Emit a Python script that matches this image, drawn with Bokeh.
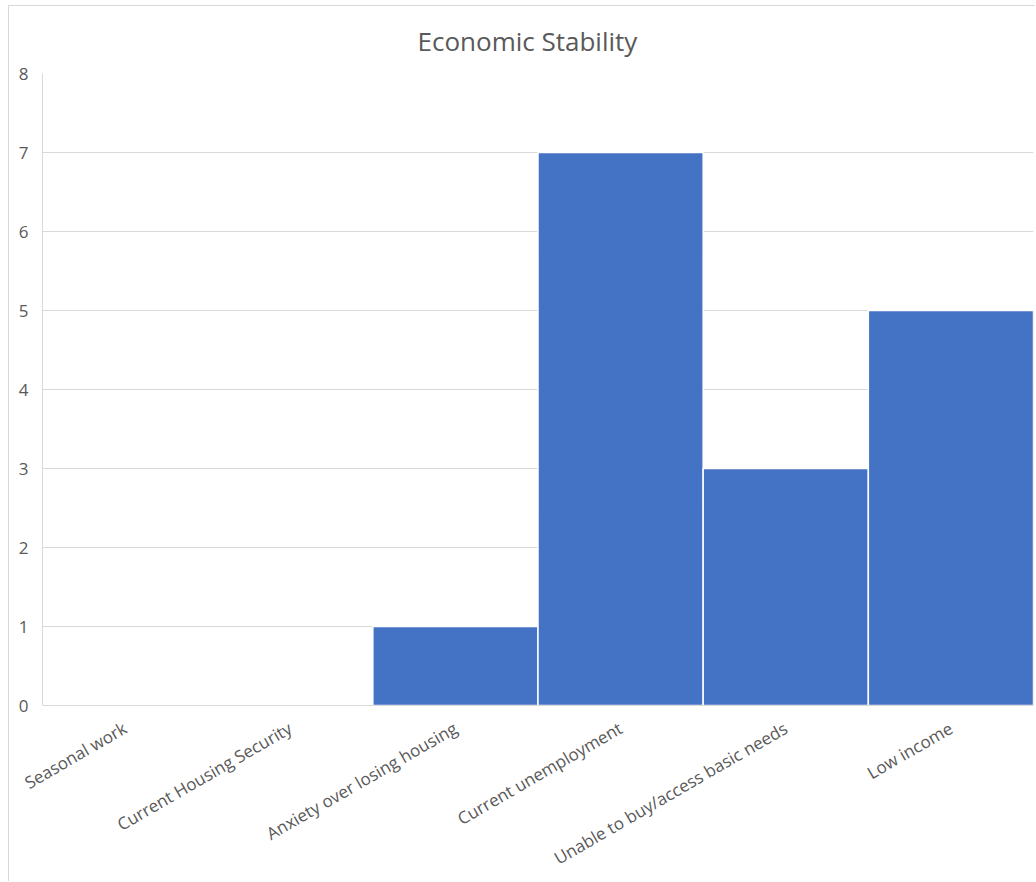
from bokeh.plotting import figure
from bokeh.models import ColumnDataSource, FactorRange, Range1d, FixedTicker, Title
from bokeh.embed import file_html
from bokeh.resources import INLINE
import math

categories = [
    "Seasonal work",
    "Current Housing Security",
    "Anxiety over losing housing",
    "Current unemployment",
    "Unable to buy/access basic needs",
    "Low income",
]
counts = [0, 0, 1, 7, 3, 5]
y_ticks = [0, 1, 2, 3, 4, 5, 6, 7, 8]
chart_title = "Economic Stability"

TEXT = "#595959"
GRID = "#d9d9d9"
FONT = "Open Sans"

src = ColumnDataSource(dict(cat=categories, val=counts))

p = figure(
    x_range=FactorRange(factors=categories, range_padding=0),
    y_range=Range1d(0, 8),
    width=1027,
    height=876,
    output_backend="svg",
    toolbar_location=None,
    min_border_left=33,
    min_border_right=3,
    min_border_top=67,
    min_border_bottom=176,
)
p.styles = {
    "margin-left": "8px",
    "margin-top": "5px",
    "border-left": "1px solid #d9d9d9",
    "border-top": "1px solid #d9d9d9",
}

title = Title(text=chart_title, align="left", text_font=FONT,
              text_font_size="26px", text_color=TEXT,
              text_font_style="normal", offset=375, standoff=29)
p.add_layout(title, "above")

p.vbar(x="cat", top="val", width=1, source=src,
       fill_color="#4472C4", line_color="white", line_width=1.5)

p.outline_line_color = None
p.xgrid.visible = False
p.ygrid.ticker = FixedTicker(ticks=y_ticks)
p.ygrid.grid_line_color = GRID
p.ygrid.grid_line_width = 1

p.yaxis.ticker = FixedTicker(ticks=y_ticks)
p.yaxis.axis_line_color = GRID
p.yaxis.major_tick_line_color = None
p.yaxis.minor_tick_line_color = None
p.yaxis.major_label_text_font = FONT
p.yaxis.major_label_text_font_size = "17px"
p.yaxis.major_label_text_color = TEXT
p.yaxis.major_label_standoff = 8

p.xaxis.axis_line_color = GRID
p.xaxis.major_tick_line_color = None
p.xaxis.minor_tick_line_color = None
p.xaxis.major_label_orientation = math.pi / 6
p.xaxis.major_label_text_font = FONT
p.xaxis.major_label_text_font_size = "17px"
p.xaxis.major_label_text_color = TEXT
p.xaxis.major_label_standoff = 15

open("out.html", "w").write(file_html(p, INLINE))
